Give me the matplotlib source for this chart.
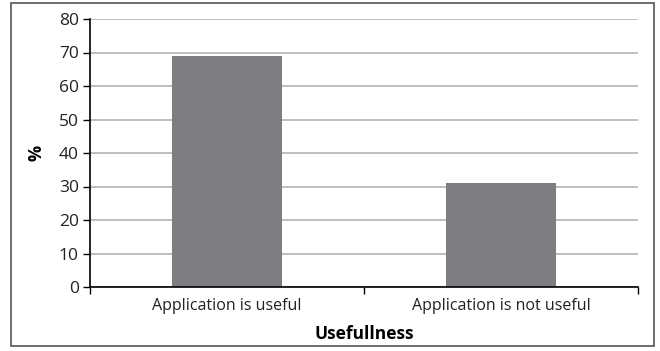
import matplotlib.pyplot as plt
from matplotlib.patches import Rectangle
import numpy as np

categories = ['Application is useful', 'Application is not useful']
percent = [69, 31]
y_ticks = [0, 10, 20, 30, 40, 50, 60, 70, 80]

plt.rcParams['font.family'] = ['Open Sans', 'DejaVu Sans']

fig = plt.figure(figsize=(6.6, 3.51), dpi=100)
ax = fig.add_axes([90 / 660, 1 - 287 / 351, 548 / 660, 268 / 351])

x = np.arange(len(categories))
ax.bar(x, percent, width=0.4, color='#7d7e81', zorder=3)

ax.set_xlim(-0.5, len(categories) - 0.5)
ax.set_ylim(0, 80)
ax.set_yticks(y_ticks)
ax.yaxis.grid(True, color='#b3b3b3', linewidth=1.2, zorder=0)

# category labels sit between the boundary ticks
ax.set_xticks(np.arange(-0.5, len(categories), 1.0))
ax.set_xticklabels([])
ax.set_xticks(x, minor=True)
ax.set_xticklabels(categories, minor=True, fontsize=11.5, color='#222222')
ax.tick_params(axis='x', which='minor', length=0, pad=8)
ax.tick_params(axis='x', which='major', length=5, width=1, direction='out')
ax.tick_params(axis='y', length=5, width=1, direction='out', labelsize=12.5, pad=3, labelcolor='#222222')

for side in ['top', 'right']:
    ax.spines[side].set_visible(False)
for side in ['left', 'bottom']:
    ax.spines[side].set_linewidth(1.2)
    ax.spines[side].set_zorder(4)

ax.set_xlabel('Usefullness', fontsize=12.5, fontweight='bold', labelpad=8)
ax.set_ylabel('%', fontsize=13, fontweight='bold', labelpad=10)

# frame around the whole chart
fig.patches.append(Rectangle((11 / 660, 1 - 346 / 351), 643 / 660, 343 / 351,
                             transform=fig.transFigure, fill=False,
                             edgecolor='#555555', linewidth=1.2))

fig.savefig('out.png', dpi=100)
